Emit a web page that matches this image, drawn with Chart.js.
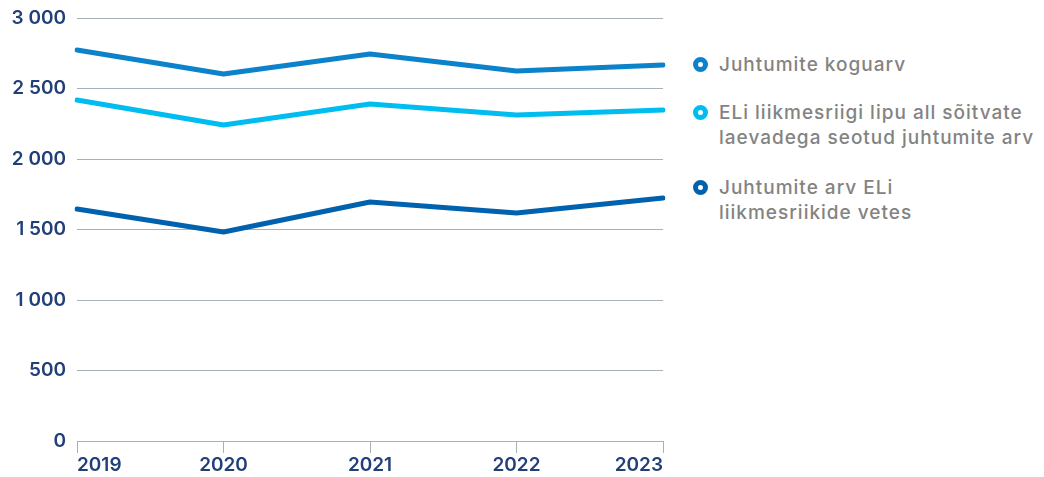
<!DOCTYPE html>
<html>
<head>
<meta charset="utf-8">
<script src="https://cdn.jsdelivr.net/npm/chart.js@4"></script>
<style>
  html, body { margin: 0; padding: 0; background: #fff; }
  body { width: 1044px; height: 477px; position: relative; overflow: hidden; font-family: Inter, "Noto Sans", sans-serif; }
  #wrap { position: absolute; left: 0; top: 0; width: 680px; height: 477px; }
  #legend { position: absolute; left: 693px; top: 0; width: 351px; }
  .legend-item { position: absolute; left: 0; display: flex; align-items: flex-start; color: #838383; font-size: 19px; font-weight: 500; letter-spacing: 1px; line-height: 25px; white-space: nowrap; }
  .legend-dot { width: 15px; height: 15px; box-sizing: border-box; border-radius: 50%; border: 5px solid; background: #fff; margin-top: 5px; margin-right: 11px; flex: none; }
</style>
</head>
<body>
<div id="wrap"><canvas id="chart"></canvas></div>
<div id="legend"></div>
<script>
// Datos
const years = ["2019", "2020", "2021", "2022", "2023"];
const koguarv = [2773, 2603, 2745, 2624, 2667];
const eliLipp = [2418, 2241, 2390, 2312, 2348];
const eliVetes = [1645, 1482, 1695, 1617, 1723];
const yTicks = [0, 500, 1000, 1500, 2000, 2500, 3000];

const seriesNames = [
  ["Juhtumite koguarv"],
  ["ELi liikmesriigi lipu all sõitvate", "laevadega seotud juhtumite arv"],
  ["Juhtumite arv ELi", "liikmesriikide vetes"],
];
const seriesColors = ["#0b82ca", "#00bdf0", "#0062ae"];
const legendTops = [52, 100, 175];

const navy = "#213f78";
const gridColor = "#a7b1ba";

// Leyenda HTML
const legendEl = document.getElementById("legend");
legendEl.innerHTML = seriesNames
  .map(
    (lines, i) => `
    <div class="legend-item" style="top:${legendTops[i]}px">
      <span class="legend-dot" style="border-color:${seriesColors[i]}"></span>
      <span>${lines.join("<br>")}</span>
    </div>`,
  )
  .join("");

const fmt = (v) => String(v).replace(/\B(?=(\d{3})+(?!\d))/g, " ");

function drawChart() {
  const ctx = document.getElementById("chart").getContext("2d");
  new Chart(ctx, {
    type: "line",
    data: {
      labels: years,
      datasets: [koguarv, eliLipp, eliVetes].map((d, i) => ({
        label: seriesNames[i].join(" "),
        data: d,
        borderColor: seriesColors[i],
        borderWidth: 5,
        pointRadius: 0,
        tension: 0,
        borderCapStyle: "round",
        borderJoinStyle: "round",
        fill: false,
      })),
    },
    options: {
      responsive: true,
      maintainAspectRatio: false,
      animation: false,
      layout: { padding: { top: 18, right: 17, left: 0, bottom: 0 } },
      plugins: {
        legend: { display: false },
        tooltip: { enabled: false },
      },
      scales: {
        x: {
          offset: false,
          grid: {
            drawOnChartArea: false,
            drawTicks: true,
            tickLength: 12,
            color: gridColor,
          },
          border: { display: true, color: gridColor },
          ticks: {
            color: navy,
            align: "inner",
            maxRotation: 0,
            padding: 1,
            font: { family: "Inter", size: 19, weight: 600 },
          },
          afterFit: (scale) => { scale.height = 36; },
        },
        y: {
          min: 0,
          max: 3000,
          afterBuildTicks: (scale) => { scale.ticks = yTicks.map((v) => ({ value: v })); },
          grid: { drawTicks: false, color: gridColor },
          border: { display: false },
          ticks: {
            color: navy,
            padding: 11,
            font: { family: "Inter", size: 19, weight: 600 },
            callback: (v) => fmt(v),
          },
          afterFit: (scale) => {
            scale.width = 77;
            scale.paddingTop = 0;
            scale.paddingBottom = 0;
          },
        },
      },
    },
  });
}

// Esperar a que la fuente esté lista antes de dibujar
document.fonts.load("600 19px Inter").then(drawChart, drawChart);
</script>
</body>
</html>
